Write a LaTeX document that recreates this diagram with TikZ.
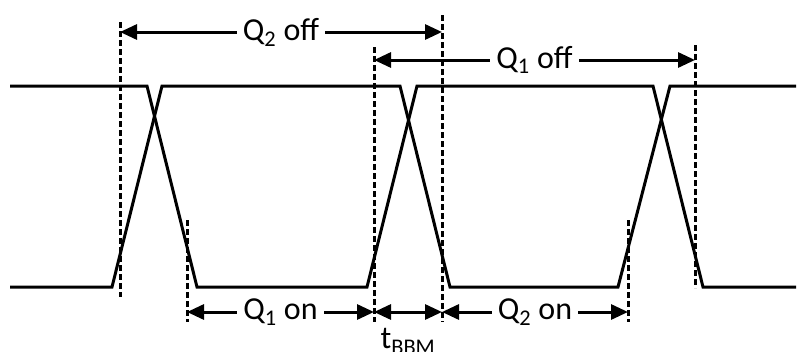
\documentclass[tikz,border=0pt]{standalone}
\usepackage{fontspec}
\setsansfont{Carlito}
\usetikzlibrary{arrows.meta}

\begin{document}
\begin{tikzpicture}[
		x=1pt, y=-1pt,
		font=\sffamily\fontsize{32}{34}\selectfont,
		% Line styles
		wave/.style={line width=3pt, line join=miter},
		guide/.style={line width=3pt, dash pattern=on 6pt off 3pt},
		% Dimension arrows
		dimArrow/.style={{Triangle[length=17pt, width=15pt]}-{Triangle[length=17pt, width=15pt]}, line width=3pt},
		dimLabel/.style={fill=white, inner sep=6pt}
		]
		\useasboundingbox (0,0) rectangle (798,351);
		
		% =========================================================
		% WAVEFORMS
		% =========================================================
		\draw[wave] (10,86) -- (147,86) -- (197,287) -- (367,287) -- (417,86) -- (653,86) -- (703,287) -- (796,287);
		\draw[wave] (10,287) -- (112,287) -- (162,86) -- (400,86) -- (450,287) -- (618,287) -- (670,86) -- (796,86);
		
		% =========================================================
		% DASHED GUIDES
		% =========================================================
		\coordinate (GuideA) at (120,22);
		\coordinate (GuideB) at (187,220);
		\coordinate (GuideC) at (374,47);
		\coordinate (GuideD) at (442,15);
		\coordinate (GuideE) at (628,220);
		\coordinate (GuideF) at (695,45);
		
		\draw[guide] (GuideA) -- (120,297);
		\draw[guide] (GuideB) -- (187,322);
		\draw[guide] (GuideC) -- (374,322);
		\draw[guide] (GuideD) -- (442,322);
		\draw[guide] (GuideE) -- (628,322);
		\draw[guide] (GuideF) -- (695,288);
		
		% =========================================================
		% OFF INTERVALS (top)
		% =========================================================
		\coordinate (QtwoOffL) at (120,32);
		\coordinate (QtwoOffR) at (442,32);
		\coordinate (QoneOffL) at (374,60);
		\coordinate (QoneOffR) at (695,60);
		
		\draw[dimArrow] (QtwoOffL) -- (QtwoOffR) node[midway, dimLabel] (QtwoOff) {Q\textsubscript{2} off};
		\draw[dimArrow] (QoneOffL) -- (QoneOffR) node[midway, dimLabel] (QoneOff) {Q\textsubscript{1} off};
		
		% =========================================================
		% ON INTERVALS AND DEAD TIME (bottom)
		% =========================================================
		\coordinate (QoneOnL) at (187,312);
		\coordinate (BbmL) at (374,312);
		\coordinate (BbmR) at (442,312);
		\coordinate (QtwoOnR) at (628,312);
		
		\draw[dimArrow] (QoneOnL) -- (BbmL) node[midway, dimLabel] (QoneOn) {Q\textsubscript{1} on};
		\draw[dimArrow] (BbmL) -- (BbmR) node[midway, below=15pt, inner sep=0pt] (Tbbm) {t\textsubscript{BBM}};
		\draw[dimArrow] (BbmR) -- (QtwoOnR) node[midway, dimLabel] (QtwoOn) {Q\textsubscript{2} on};
		
	\end{tikzpicture}
\end{document}
